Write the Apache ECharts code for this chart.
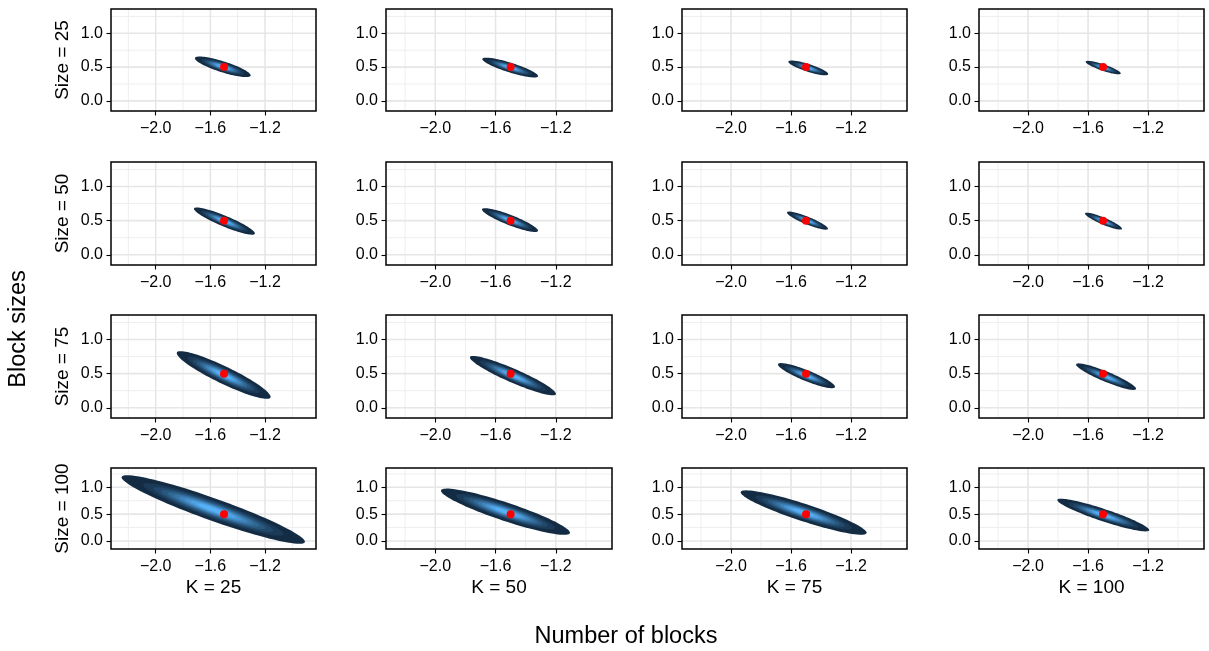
<!DOCTYPE html>
<html><head><meta charset="utf-8">
<script src="https://cdn.jsdelivr.net/npm/echarts@6/dist/echarts.min.js"></script>
<style>html,body{margin:0;padding:0;background:#fff}#c{width:1209px;height:651px}</style>
</head><body><div id="c"></div>
<script>
// ---- data ----
const colLabels = ['K = 25', 'K = 50', 'K = 75', 'K = 100'];
const rowLabels = ['Size = 25', 'Size = 50', 'Size = 75', 'Size = 100'];
const xTitle = 'Number of blocks';
const yTitle = 'Block sizes';
const xTicks = [-2.0, -1.6, -1.2];
const xMinor = [-2.2, -1.8, -1.4, -1.0];
const yTicks = [0.0, 0.5, 1.0];
const yMinor = [0.25, 0.75, 1.25];
const xRange = [-2.327, -0.827];
const yRange = [-0.15, 1.36];
const trueX = -1.5;
const trueY = 0.5;
// posterior region per panel (row-major: Size rows x K columns)
const leftX  = [-1.713, -1.688, -1.618, -1.616,  -1.720, -1.690, -1.627, -1.620,  -1.846, -1.770, -1.687, -1.680,  -2.249, -1.962, -1.936, -1.805];
const leftY  = [ 0.630,  0.619,  0.579,  0.579,   0.674,  0.664,  0.619,  0.604,   0.801,  0.738,  0.634,  0.634,   1.186,  0.937,  0.907,  0.763];
const rightX = [-1.305, -1.318, -1.352, -1.382,  -1.274, -1.318, -1.354, -1.374,  -1.159, -1.199, -1.307, -1.280,  -0.908, -1.106, -1.096, -1.192];
const rightY = [ 0.378,  0.367,  0.397,  0.407,   0.313,  0.353,  0.382,  0.382,   0.160,  0.204,  0.308,  0.279,  -0.015,  0.153,  0.153,  0.203];
const halfW  = [ 0.085,  0.075,  0.060,  0.050,   0.085,  0.080,  0.060,  0.055,   0.140,  0.110,  0.085,  0.080,   0.220,  0.180,  0.170,  0.120];

// ---- layout / style ----
const colBox = [[111, 316], [386, 612], [682, 907], [979, 1204]];
const rowBox = [[9, 111], [162, 265], [315, 418], [468, 549]];
const FONT = '"Liberation Sans", Arial, Helvetica, sans-serif';
const lowC = [0x13, 0x2B, 0x43], highC = [0x56, 0xB1, 0xF7];
const NLEV = 10;
function ramp(t) {
  const c = lowC.map((v, i) => Math.round(v + (highC[i] - v) * t));
  return 'rgb(' + c.join(',') + ')';
}
// gaussian contour scales at equally spaced density levels
const L0 = 0.03;
const levelScale = [];
for (let k = 0; k < NLEV; k++) {
  const L = L0 + k * (1 - L0) / NLEV;
  levelScale.push(Math.sqrt(-2 * Math.log(L)) / Math.sqrt(-2 * Math.log(L0)));
}
const fmt = v => (v < 0 ? '\u2212' : '') + Math.abs(v).toFixed(1);

function renderPanel(params, api) {
  const lx = api.value(0), ly = api.value(1), rx = api.value(2), ry = api.value(3), w = api.value(4);
  const cx = (lx + rx) / 2, cy = (ly + ry) / 2, ax = (rx - lx) / 2, ay = (ry - ly) / 2;
  const children = [];
  const gl = (a, b, major) => ({
    type: 'line', silent: true,
    shape: { x1: a[0], y1: a[1], x2: b[0], y2: b[1] },
    style: { stroke: major ? '#E6E6E6' : '#EEEEEE', lineWidth: major ? 1.6 : 1.0 }
  });
  xMinor.forEach(v => children.push(gl(api.coord([v, yRange[0]]), api.coord([v, yRange[1]]), false)));
  yMinor.forEach(v => children.push(gl(api.coord([xRange[0], v]), api.coord([xRange[1], v]), false)));
  xTicks.forEach(v => children.push(gl(api.coord([v, yRange[0]]), api.coord([v, yRange[1]]), true)));
  yTicks.forEach(v => children.push(gl(api.coord([xRange[0], v]), api.coord([xRange[1], v]), true)));
  levelScale.forEach((s, k) => {
    const pts = [];
    for (let i = 0; i < 90; i++) {
      const th = 2 * Math.PI * i / 90;
      const c = Math.cos(th), sn = Math.sin(th);
      pts.push(api.coord([cx + s * ax * c, cy + s * (ay * c + w * sn)]));
    }
    children.push({ type: 'polygon', shape: { points: pts }, style: { fill: ramp(k / (NLEV - 1)) } });
  });
  return { type: 'group', children };
}

const grids = [], xAxes = [], yAxes = [], series = [], graphics = [];
for (let r = 0; r < 4; r++) {
  for (let c = 0; c < 4; c++) {
    const i = r * 4 + c;
    grids.push({
      left: colBox[c][0], top: rowBox[r][0],
      width: colBox[c][1] - colBox[c][0], height: rowBox[r][1] - rowBox[r][0],
      show: true, borderColor: '#000', borderWidth: 1.5, backgroundColor: 'transparent', z: 10
    });
    xAxes.push({
      type: 'value', gridIndex: i, min: xRange[0], max: xRange[1], position: 'bottom',
      axisLine: { show: false, onZero: false },
      axisTick: { show: true, customValues: xTicks, length: 4.5, lineStyle: { color: '#000', width: 1.1 } },
      axisLabel: { show: true, customValues: xTicks, formatter: fmt, fontSize: 16, color: '#000', fontFamily: FONT, margin: 10 },
      splitLine: { show: false }
    });
    yAxes.push({
      type: 'value', gridIndex: i, min: yRange[0], max: yRange[1], position: 'left',
      axisLine: { show: false, onZero: false },
      axisTick: { show: true, customValues: yTicks, length: 4.5, lineStyle: { color: '#000', width: 1.1 } },
      axisLabel: { show: true, customValues: yTicks, formatter: fmt, fontSize: 16, color: '#000', fontFamily: FONT, margin: 8 },
      splitLine: { show: false }
    });
    series.push({
      type: 'custom', xAxisIndex: i, yAxisIndex: i, z: 2, silent: true,
      renderItem: renderPanel,
      data: [[leftX[i], leftY[i], rightX[i], rightY[i], halfW[i]]]
    });
    series.push({
      type: 'scatter', xAxisIndex: i, yAxisIndex: i, z: 5, silent: true,
      symbolSize: 8, itemStyle: { color: '#FF0000', opacity: 1 },
      data: [[trueX, trueY]]
    });
  }
}
// column / row labels
colLabels.forEach((t, c) => graphics.push({
  type: 'text', x: (colBox[c][0] + colBox[c][1]) / 2, y: 588,
  style: { text: t, fill: '#000', font: '19px ' + FONT, textAlign: 'center', textVerticalAlign: 'middle' }
}));
rowLabels.forEach((t, r) => graphics.push({
  type: 'text', x: 63, y: (rowBox[r][0] + rowBox[r][1]) / 2, rotation: Math.PI / 2,
  style: { text: t, fill: '#000', font: '19px ' + FONT, textAlign: 'center', textVerticalAlign: 'middle' }
}));
graphics.push({
  type: 'text', x: 626, y: 637,
  style: { text: xTitle, fill: '#000', font: '23.5px ' + FONT, textAlign: 'center', textVerticalAlign: 'middle' }
});
graphics.push({
  type: 'text', x: 19, y: 329, rotation: Math.PI / 2,
  style: { text: yTitle, fill: '#000', font: '23.5px ' + FONT, textAlign: 'center', textVerticalAlign: 'middle' }
});

const chart = echarts.init(document.getElementById('c'), null, { renderer: 'canvas' });
chart.setOption({
  animation: false,
  backgroundColor: '#fff',
  grid: grids, xAxis: xAxes, yAxis: yAxes, series: series, graphic: graphics
});
</script></body></html>
